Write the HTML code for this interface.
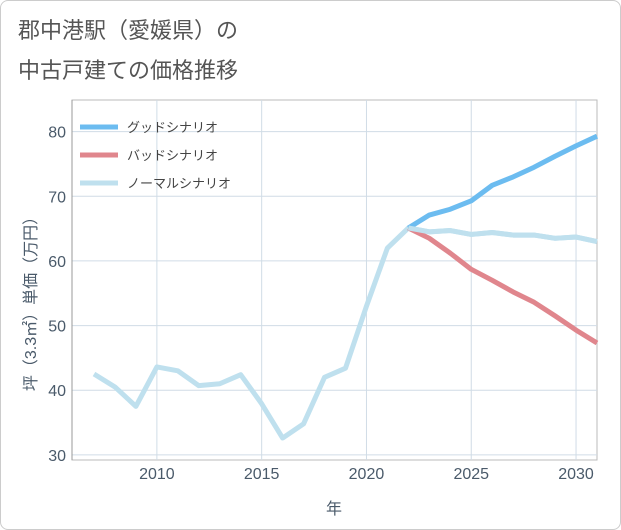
<!DOCTYPE html>
<html><head><meta charset="utf-8"><style>
body{margin:0;background:#fff;font-family:"Liberation Sans","Noto Sans CJK JP",sans-serif;}
#card{position:absolute;left:0;top:0;width:619px;height:528px;border:1px solid #ccc;border-radius:8px;background:#fff;}
</style></head><body>
<div id="card"></div>
<svg id="chart" width="621" height="530" style="position:absolute;left:0;top:0">
<text x="18" y="38" font-size="22" fill="#555" font-family="Liberation Sans, Noto Sans CJK JP, sans-serif">郡中港駅（愛媛県）の</text>
<text x="18" y="78" font-size="22" fill="#555" font-family="Liberation Sans, Noto Sans CJK JP, sans-serif">中古戸建ての価格推移</text>
<g id="grid"></g><g id="series"></g><g id="axes"></g>
</svg>
<script>
const years=[2007,2008,2009,2010,2011,2012,2013,2014,2015,2016,2017,2018,2019,2020,2021,2022,2023,2024,2025,2026,2027,2028,2029,2030,2031];
const normalVals=[42.5,40.5,37.5,43.6,43,40.7,41,42.4,37.9,32.6,34.8,42,43.4,53,62,65.1,64.5,64.7,64.1,64.4,64,64,63.5,63.7,63];
const scenYears=[2022,2023,2024,2025,2026,2027,2028,2029,2030,2031];
const goodVals=[65.1,67.1,68,69.3,71.7,73,74.5,76.2,77.8,79.3];
const badVals=[65.1,63.5,61.2,58.7,57,55.2,53.6,51.5,49.3,47.3];
const xTicks=[2010,2015,2020,2025,2030];
const yTicks=[30,40,50,60,70,80];
const L=72,R=597,T=100,B=460,x0=2005.95,x1=2031,y0=29.2,y1=84.9;
const X=v=>L+(v-x0)/(x1-x0)*(R-L);
const Y=v=>B-(v-y0)/(y1-y0)*(B-T);
const NS="http://www.w3.org/2000/svg";
function mk(tag,parent,attrs){const e=document.createElementNS(NS,tag);for(const k in attrs)e.setAttribute(k,attrs[k]);document.getElementById(parent).appendChild(e);return e;}
const bg=mk('rect','grid',{x:L,y:T,width:R-L,height:B-T,fill:'#fff',stroke:'#bbb'});


xTicks.forEach(t=>{const l=mk('line','grid',{x1:X(t),x2:X(t),y1:T,y2:B,stroke:'#d0dce6'});


const tx=mk('text','axes',{x:X(t),y:B+19,'text-anchor':'middle','font-size':16,fill:'#4a5a6a'});tx.textContent=t;

});
yTicks.forEach(t=>{const l=mk('line','grid',{x1:L,x2:R,y1:Y(t),y2:Y(t),stroke:'#d0dce6'});


const tx=mk('text','axes',{x:L-6,y:Y(t)+6,'text-anchor':'end','font-size':16,fill:'#4a5a6a'});tx.textContent=t;

});
const ax=mk('line','axes',{x1:L,x2:L,y1:T,y2:B,stroke:'#999'});


const xt=mk('text','axes',{x:334,y:514,'text-anchor':'middle','font-size':16,fill:'#4a5a6a'});xt.textContent='年';


const yt=mk('text','axes',{x:36,y:300,'text-anchor':'middle','font-size':16,fill:'#4a5a6a',transform:'rotate(-90 36 300)'});yt.textContent='坪（3.3㎡）単価（万円）';


function line(xs,vs,col,name){const p=mk('polyline','series',{points:xs.map((x,i)=>X(x)+','+Y(vs[i])).join(' '),fill:'none',stroke:col,'stroke-width':5,'stroke-linejoin':'round'});

}
line(years,normalVals,'#bfe0ee','normal-scenario-line');
line(scenYears,badVals,'#e0868d','bad-scenario-line');
line(scenYears,goodVals,'#6cbcf0','good-scenario-line');
line(years.slice(-10),normalVals.slice(-10),'#bfe0ee','normal-scenario-line-top');
const leg=[['グッドシナリオ','#6cbcf0',127],['バッドシナリオ','#e0868d',155],['ノーマルシナリオ','#bfe0ee',183]];
leg.forEach(([t,c,y])=>{const l=mk('line','axes',{x1:80,x2:118,y1:y,y2:y,stroke:c,'stroke-width':5});


const tx=mk('text','axes',{x:127,y:y+5,'font-size':13,fill:'#444'});tx.textContent=t;

});
</script>
</body></html>
